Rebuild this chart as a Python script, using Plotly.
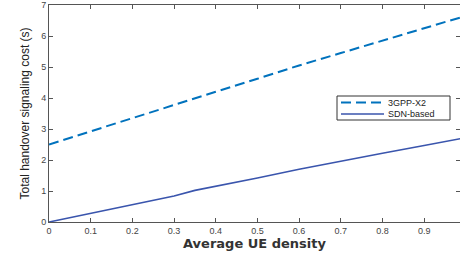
import plotly.graph_objects as go

x_vals = [0, 0.1, 0.2, 0.3, 0.35, 0.4, 0.5, 0.6, 0.7, 0.8, 0.9, 1.0]
x2_vals = [2.5, 2.93, 3.35, 3.77, 3.98, 4.2, 4.62, 5.05, 5.45, 5.85, 6.25, 6.65]
sdn_vals = [0, 0.28, 0.56, 0.84, 1.02, 1.15, 1.42, 1.7, 1.97, 2.22, 2.47, 2.72]
x_ticks = [0, 0.1, 0.2, 0.3, 0.4, 0.5, 0.6, 0.7, 0.8, 0.9]
y_ticks = [0, 1, 2, 3, 4, 5, 6, 7]
series_names = ["3GPP-X2", "SDN-based"]
series_colors = ["#0072BD", "#3A55AD"]
dashes = ["10px,5px", "solid"]
widths = [2, 1.6]

fig = go.Figure()
for i, yv in enumerate([x2_vals, sdn_vals]):
    fig.add_trace(go.Scatter(x=x_vals, y=yv, mode="lines", name=series_names[i],
                             line=dict(color=series_colors[i], width=widths[i], dash=dashes[i]),
                             showlegend=False))

axis_common = dict(showline=True, linecolor="#555", linewidth=1, mirror="ticks",
                   ticks="inside", ticklen=4, tickcolor="#555", showgrid=False,
                   zeroline=False, automargin=False,
                   tickfont=dict(family="Liberation Sans", size=9, color="#444"))

W, H = 460, 257
ml, mr, mt, mb = 49, 0, 5, 35
pw, ph = W - ml - mr, H - mt - mb

def px(xp):
    return (xp - ml) / pw

def py(yp):
    return 1 - (yp - mt) / ph

# manual compact legend box
lx0, lx1, ly0, ly1 = 337, 450, 96, 120
fig.add_shape(type="rect", xref="paper", yref="paper", x0=px(lx0), x1=px(lx1), y0=py(ly1), y1=py(ly0),
              line=dict(color="#333", width=1), fillcolor="white", layer="above")
rows = [102.5, 114]
for i in range(2):
    fig.add_shape(type="line", xref="paper", yref="paper", x0=px(341), x1=px(384), y0=py(rows[i]), y1=py(rows[i]),
                  line=dict(color=series_colors[i], width=widths[i], dash=dashes[i]), layer="above")
    fig.add_annotation(xref="paper", yref="paper", x=px(386), y=py(rows[i]), text=series_names[i],
                       showarrow=False, xanchor="left", yanchor="middle",
                       font=dict(family="Liberation Sans", size=9, color="#222"))

fig.update_layout(
    width=W, height=H,
    margin=dict(l=ml, r=mr, t=mt, b=mb),
    plot_bgcolor="white", paper_bgcolor="white",
    xaxis=dict(range=[0, 0.986], tickvals=x_ticks, ticktext=[str(v) for v in x_ticks],
               title=dict(text="<b>Average UE density</b>", standoff=2,
                          font=dict(family="DejaVu Sans", size=13, color="#333")),
               **axis_common),
    yaxis=dict(range=[0, 7], tickvals=y_ticks,
               title=dict(text="Total handover signaling cost (s)", standoff=8,
                          font=dict(family="Liberation Sans", size=12, color="#222")),
               **axis_common),
)
fig.write_html("out.html", config={"displayModeBar": False},
               post_script="document.body.style.margin='0';document.body.style.overflow='hidden';")
